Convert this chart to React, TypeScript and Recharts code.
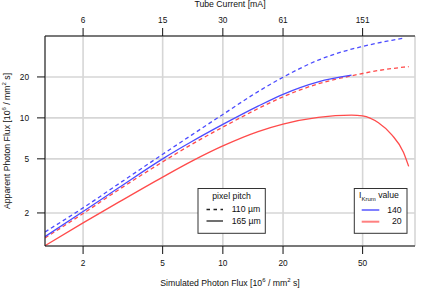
import { LineChart, Line, XAxis, YAxis, CartesianGrid } from "recharts";

// simulated photon flux [10^6 / mm^2 s]
const simFlux = [1.29, 2, 3, 5, 7, 10, 15, 20, 30, 44, 50, 60, 70, 80, 85];

// apparent photon flux, one list per (I_Krum, pixel pitch)
const krum140Pitch110 = [1.45, 2.18, 3.26, 5.4, 7.5, 10.6, 15.6, 19.9, 26.6, 32.0, 33.5, 35.6, 37.2, 38.5, null];
const krum140Pitch165 = [1.34, 2.05, 3.05, 5.0, 6.7, 8.95, 12.2, 14.9, 18.4, 20.6, null, null, null, null, null];
const krum20Pitch110 = [1.31, 1.98, 2.95, 4.75, 6.4, 8.55, 11.7, 14.3, 17.8, 20.4, 21.2, 22.3, 23.05, 23.6, 23.8];
const krum20Pitch165 = [1.15, 1.69, 2.39, 3.67, 4.81, 6.22, 7.93, 9.0, 10.08, 10.47, 10.35, 9.2, 7.5, 5.6, 4.4];

const xTicks = [2, 5, 10, 20, 50];
const tubeCurrentLabels = ["6", "15", "30", "61", "151"];
const yTicks = [2, 5, 10, 20];

const data = simFlux.map((x, i) => ({
  x,
  b110: krum140Pitch110[i],
  b165: krum140Pitch165[i],
  r110: krum20Pitch110[i],
  r165: krum20Pitch165[i],
}));

const FONT = '"Liberation Sans", Arial, Helvetica, sans-serif';
const BLUE = "#4b4bff";
const RED = "#ff4b4b";
const tickStyle = { fill: "#111", fontSize: 8.3, fontFamily: FONT };

function Unit() {
  return (
    <>
      <tspan>[10</tspan>
      <tspan dy={-3.2} fontSize={6}>6</tspan>
      <tspan dy={3.2}> / mm</tspan>
      <tspan dy={-3.2} fontSize={6}>2</tspan>
      <tspan dy={3.2}> s]</tspan>
    </>
  );
}

function Overlay() {
  return (
    <svg
      width={422}
      height={288}
      style={{ position: "absolute", left: 0, top: 0, pointerEvents: "none" }}
      fontFamily={FONT}
      fontSize={8.7}
      fill="#111"
    >
      <text x={230} y={6.8} textAnchor="middle">Tube Current [mA]</text>
      <text x={230} y={285.5} textAnchor="middle">
        Simulated Photon Flux <Unit />
      </text>
      <text x={9.5} y={141} textAnchor="middle" transform="rotate(-90 9.5 141)">
        Apparent Photon Flux <Unit />
      </text>

      {/* pixel pitch legend */}
      <rect x={198} y={188.5} width={67.3} height={44.8} fill="#fff" stroke="#333" strokeWidth={1} />
      <text x={231.6} y={199} textAnchor="middle">pixel pitch</text>
      <line x1={206.5} x2={223} y1={209.5} y2={209.5} stroke="#222" strokeWidth={1.3} strokeDasharray="3.5 3.5" />
      <line x1={206.5} x2={223} y1={221} y2={221} stroke="#222" strokeWidth={1.3} />
      <text x={231.7} y={212.3}>110 µm</text>
      <text x={231.7} y={223.5}>165 µm</text>

      {/* I_Krum legend */}
      <rect x={354.3} y={188.5} width={52.7} height={44.8} fill="#fff" stroke="#333" strokeWidth={1} />
      <text x={359} y={198}>
        <tspan>I</tspan>
        <tspan dy={2.5} fontSize={6}>Krum</tspan>
        <tspan dy={-2.5}> value</tspan>
      </text>
      <line x1={361.7} x2={379.3} y1={210} y2={210} stroke="#8080ff" strokeWidth={2} />
      <line x1={361.7} x2={379.3} y1={221.7} y2={221.7} stroke="#ff8080" strokeWidth={2} />
      <text x={401.7} y={213} textAnchor="end">140</text>
      <text x={401.7} y={224} textAnchor="end">20</text>
    </svg>
  );
}

export default function App() {
  return (
    <div style={{ position: "absolute", left: 0, top: 0, width: 422, height: 288, background: "#fff" }}>
      <LineChart width={422} height={288} data={data} margin={{ top: 0, right: 7, bottom: 0, left: 0 }}>
        <CartesianGrid xAxisId="bottom" yAxisId="left" stroke="#d6d6d6" strokeWidth={1.6} />
        <XAxis
          xAxisId="bottom"
          dataKey="x"
          type="number"
          scale="log"
          domain={[1.29, 91.4]}
          allowDataOverflow
          ticks={xTicks}
          height={42}
          tickSize={8}
          tickMargin={6}
          tick={tickStyle}
          stroke="#111"
          tickLine={{ stroke: "#111" }}
        />
        <XAxis
          xAxisId="top"
          orientation="top"
          dataKey="x"
          type="number"
          scale="log"
          domain={[1.29, 91.4]}
          allowDataOverflow
          ticks={xTicks}
          tickFormatter={(v) => tubeCurrentLabels[xTicks.indexOf(v)] ?? ""}
          height={36}
          tickSize={8}
          tickMargin={5}
          tick={tickStyle}
          stroke="#111"
          tickLine={{ stroke: "#111" }}
        />
        <YAxis
          yAxisId="left"
          type="number"
          scale="log"
          domain={[1.143, 40]}
          allowDataOverflow
          ticks={yTicks}
          width={45}
          tickSize={8}
          tickMargin={8}
          tick={tickStyle}
          stroke="#111"
          tickLine={{ stroke: "#111" }}
        />
        <YAxis
          yAxisId="right"
          orientation="right"
          type="number"
          scale="log"
          domain={[1.143, 40]}
          allowDataOverflow
          width={0}
          tick={false}
          tickLine={false}
          stroke="#111"
        />
        <Line xAxisId="bottom" yAxisId="left" dataKey="r165" type="monotone" stroke={RED} strokeWidth={1.3} dot={false} isAnimationActive={false} />
        <Line xAxisId="bottom" yAxisId="left" dataKey="r110" type="monotone" stroke={RED} strokeWidth={1.3} strokeDasharray="4 3" dot={false} isAnimationActive={false} />
        <Line xAxisId="bottom" yAxisId="left" dataKey="b165" type="monotone" stroke={BLUE} strokeWidth={1.3} dot={false} isAnimationActive={false} />
        <Line xAxisId="bottom" yAxisId="left" dataKey="b110" type="monotone" stroke={BLUE} strokeWidth={1.3} strokeDasharray="4 3" dot={false} isAnimationActive={false} />
      </LineChart>
      <Overlay />
    </div>
  );
}
